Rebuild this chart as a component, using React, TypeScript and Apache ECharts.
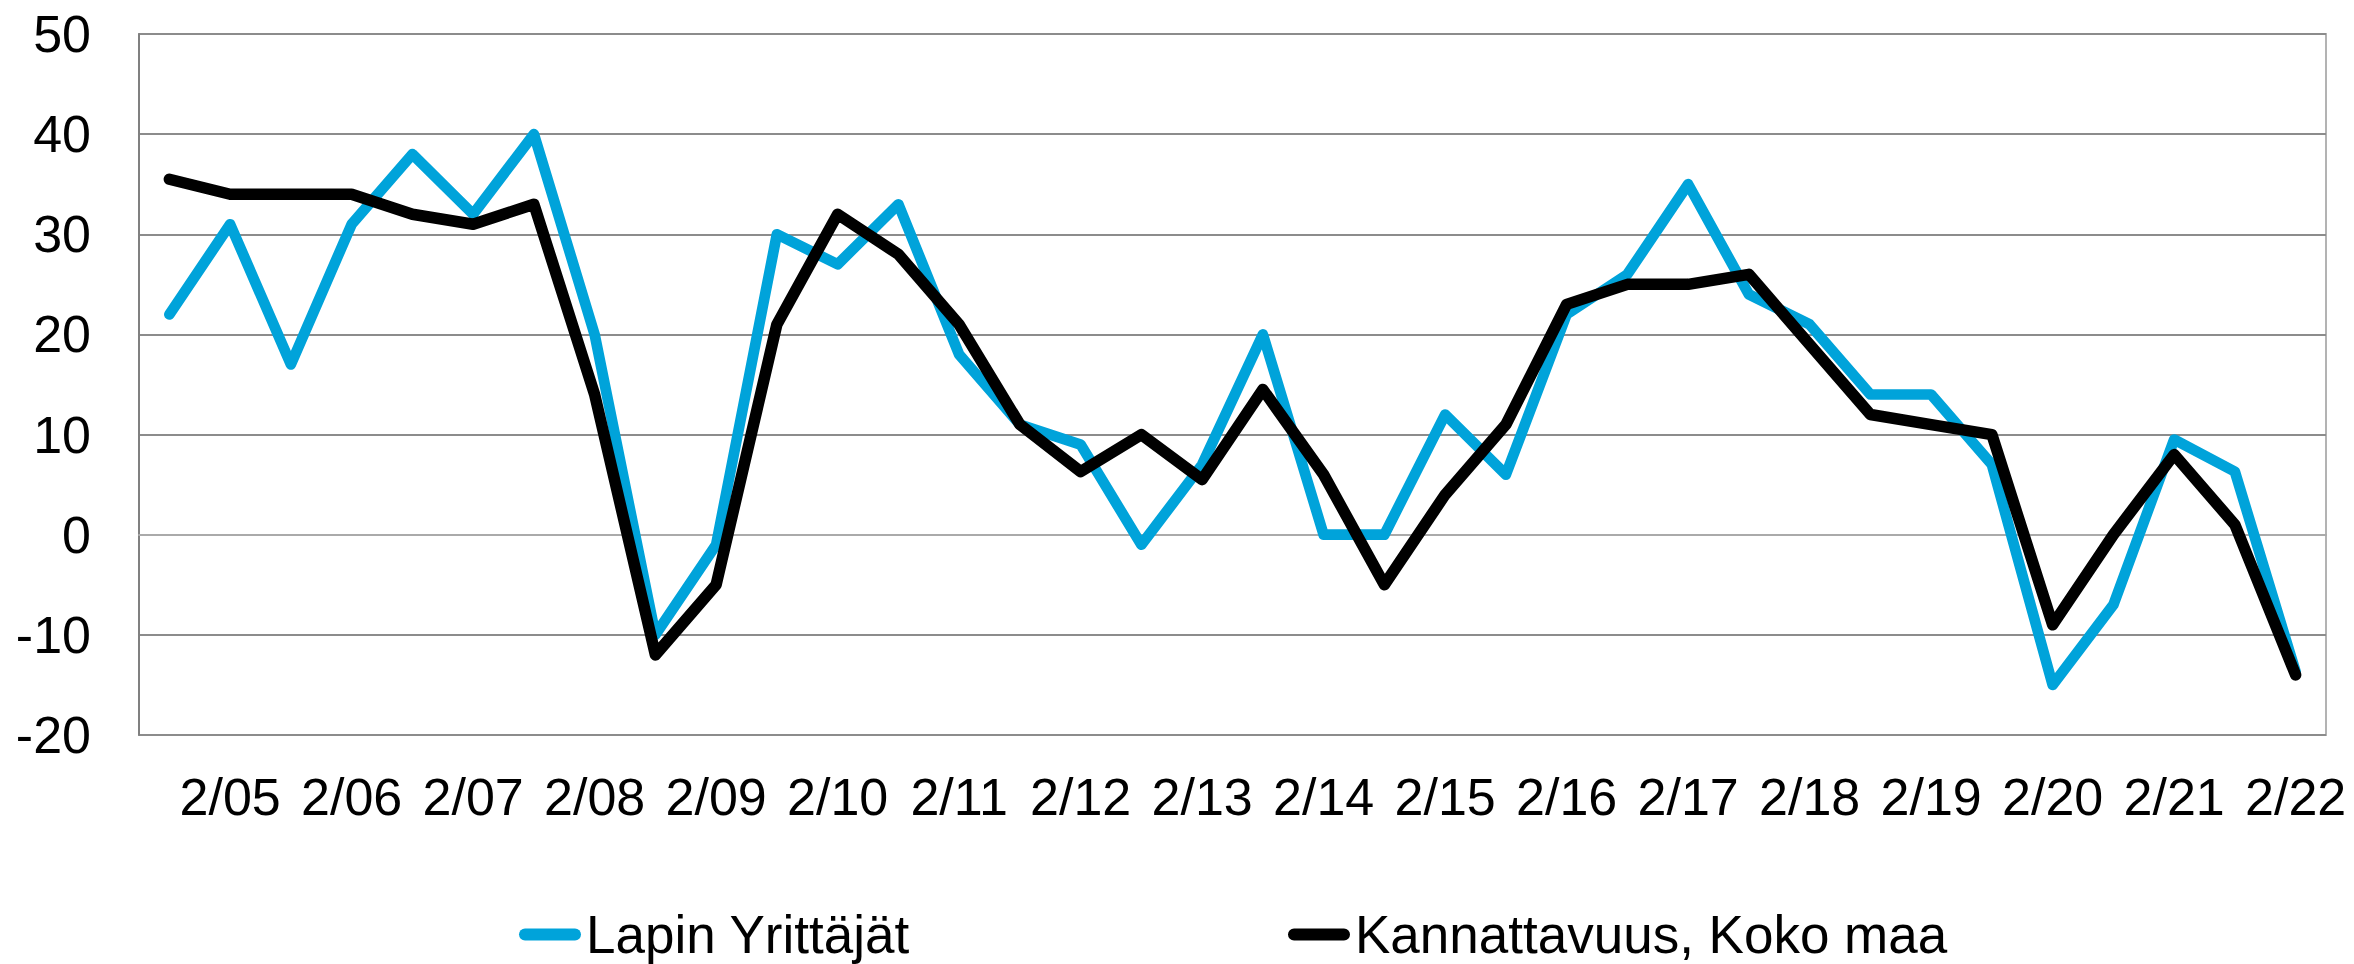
import React, { useEffect, useRef } from "react";
import * as echarts from "echarts";

const categories = [
  "1/05", "2/05", "1/06", "2/06", "1/07", "2/07", "1/08", "2/08", "1/09", "2/09",
  "1/10", "2/10", "1/11", "2/11", "1/12", "2/12", "1/13", "2/13", "1/14", "2/14",
  "1/15", "2/15", "1/16", "2/16", "1/17", "2/17", "1/18", "2/18", "1/19", "2/19",
  "1/20", "2/20", "1/21", "2/21", "1/22", "2/22",
];

const lapinYrittajat = [
  22, 31, 17, 31, 38, 32, 40, 20, -10, -1,
  30, 27, 33, 18, 11, 9, -1, 7, 20, 0,
  0, 12, 6, 22, 26, 35, 24, 21, 14, 14,
  7, -15, -7, 9.5, 6.3, -13.7,
];

const kokoMaa = [
  35.5, 34, 34, 34, 32, 31, 33, 14, -12, -5,
  21, 32, 28, 21, 11, 6.3, 10, 5.5, 14.5, 6,
  -5, 4, 11, 23, 25, 25, 26, 19, 12, 11,
  10, -9, 0, 8, 1, -14,
];

const seriesNames = ["Lapin Yrittäjät", "Kannattavuus, Koko maa"];
const yMin = -20;
const yMax = 50;
const yStep = 10;

const FONT = "'Liberation Sans', Arial, sans-serif";
const BLUE = "#00A3DA";
const BLACK = "#000000";
const PILL = "path://M6,0 H56 A6,6 0 0 1 56,12 H6 A6,6 0 0 1 6,0 Z";

export default function App() {
  const ref = useRef<HTMLDivElement>(null);

  useEffect(() => {
    document.body.style.margin = "0";
    document.body.style.overflow = "hidden";
    if (!ref.current) return;
    const chart = echarts.init(ref.current, undefined, { renderer: "svg" });
    const legendText = { fontSize: 53, lineHeight: 53, color: "#000", fontFamily: FONT };
    chart.setOption({
      animation: false,
      backgroundColor: "#ffffff",
      grid: {
        left: 139,
        right: 28,
        top: 34,
        bottom: 229,
        show: true,
        borderColor: "#b3b3b3",
        borderWidth: 2,
      },
      legend: [
        {
          data: [seriesNames[0]],
          left: 519,
          top: 908,
          padding: 0,
          icon: PILL,
          itemWidth: 62,
          itemHeight: 12,
          textStyle: legendText,
        },
        {
          data: [seriesNames[1]],
          left: 1288,
          top: 908,
          padding: 0,
          icon: PILL,
          itemWidth: 62,
          itemHeight: 13,
          textStyle: legendText,
        },
      ],
      xAxis: {
        type: "category",
        data: categories,
        boundaryGap: true,
        axisTick: { show: false },
        axisLine: { show: true, lineStyle: { color: "#aaaaaa", width: 2 } },
        axisLabel: {
          interval: (index: number) => index % 2 === 1,
          margin: 36,
          fontSize: 52,
          color: "#000",
          fontFamily: FONT,
        },
        splitLine: { show: false },
      },
      yAxis: {
        type: "value",
        min: yMin,
        max: yMax,
        interval: yStep,
        axisLine: { show: true, lineStyle: { color: "#808080", width: 2 } },
        axisTick: { show: false },
        axisLabel: {
          margin: 48,
          fontSize: 52,
          color: "#000",
          fontFamily: FONT,
        },
        splitLine: { show: true, lineStyle: { color: "#8c8c8c", width: 2 } },
      },
      series: [
        {
          name: seriesNames[0],
          type: "line",
          data: lapinYrittajat,
          symbol: "none",
          color: BLUE,
          lineStyle: { color: BLUE, width: 10.7, join: "round", cap: "round" },
          z: 2,
        },
        {
          name: seriesNames[1],
          type: "line",
          data: kokoMaa,
          symbol: "none",
          color: BLACK,
          lineStyle: { color: BLACK, width: 11.5, join: "round", cap: "round" },
          z: 3,
        },
      ],
    });
    return () => chart.dispose();
  }, []);

  return <div ref={ref} style={{ width: 2354, height: 964 }} />;
}
